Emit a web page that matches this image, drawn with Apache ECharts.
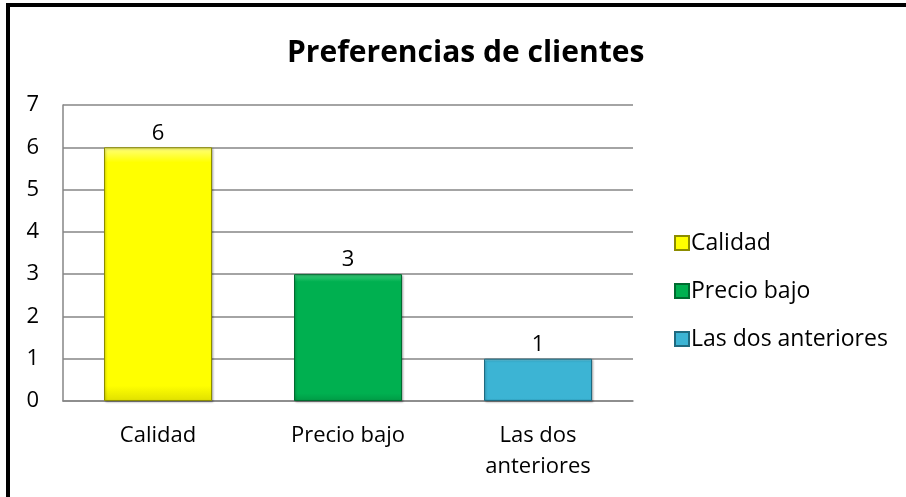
<!DOCTYPE html>
<html>
<head>
<meta charset="utf-8">
<script src="https://cdn.jsdelivr.net/npm/echarts@6/dist/echarts.min.js"></script>
<style>
  html, body { margin: 0; padding: 0; background: #fff; }
  #chart { width: 906px; height: 497px; }
</style>
</head>
<body>
<div id="chart"></div>
<script>
// datos del gráfico
const categories = ['Calidad', 'Precio bajo', 'Las dos\nanteriores']
const legendNames = ['Calidad', 'Precio bajo', 'Las dos anteriores']
const values = [6, 3, 1]
const yTicks = [0, 7, 1] // min, max, interval

const barColors = [
  { top: '#ffff80', mid: '#ffff00', bottom: '#e0e000', border: '#8c8c00' },
  { top: '#3fd07f', mid: '#00b050', bottom: '#009a45', border: '#006b30' },
  { top: '#8adcf0', mid: '#3cb4d4', bottom: '#2e9dbb', border: '#1f6a80' }
]

const myChart = echarts.init(document.getElementById('chart'))

function grad (c) {
  return new echarts.graphic.LinearGradient(0, 0, 0, 1, [
    { offset: 0, color: c.top },
    { offset: 0.06, color: c.mid },
    { offset: 0.94, color: c.mid },
    { offset: 1, color: c.bottom }
  ])
}

const series = legendNames.map((name, i) => {
  const data = categories.map((c, j) => (j === i ? values[j] : '-'))
  return {
    name: name,
    type: 'bar',
    stack: 'total',
    barWidth: 108,
    data: data,
    itemStyle: {
      color: grad(barColors[i]),
      borderColor: barColors[i].border,
      borderWidth: 1,
      shadowColor: 'rgba(0,0,0,0.25)',
      shadowBlur: 2,
      shadowOffsetX: 1,
      shadowOffsetY: 1
    },
    label: {
      show: true,
      position: 'top',
      distance: 3,
      color: '#000',
      fontSize: 22,
      fontFamily: 'Open Sans'
    }
  }
})

const option = {
  animation: false,
  backgroundColor: '#fff',
  title: {
    text: 'Preferencias de clientes',
    left: 282,
    top: 33,
    textStyle: {
      color: '#000',
      fontSize: 30,
      fontWeight: 'bold',
      fontFamily: 'Open Sans'
    }
  },
  legend: {
    orient: 'vertical',
    left: 669,
    top: 226,
    itemWidth: 14,
    itemHeight: 14,
    itemGap: 24,
    icon: 'rect',
    data: legendNames,
    textStyle: {
      color: '#000',
      fontSize: 23,
      lineHeight: 24,
      fontFamily: 'Open Sans',
      padding: [0, 0, 0, -3]
    }
  },
  grid: {
    left: 63,
    top: 105,
    width: 570,
    height: 296
  },
  xAxis: {
    type: 'category',
    data: categories,
    axisTick: { show: false },
    axisLine: { show: true, lineStyle: { color: '#868686', width: 1.5 } },
    axisLabel: {
      color: '#000',
      fontSize: 22,
      fontFamily: 'Open Sans',
      margin: 19,
      lineHeight: 31,
      interval: 0
    }
  },
  yAxis: {
    type: 'value',
    min: yTicks[0],
    max: yTicks[1],
    interval: yTicks[2],
    axisLine: { show: true, lineStyle: { color: '#868686', width: 1.5 } },
    axisTick: { show: false },
    axisLabel: {
      color: '#000',
      fontSize: 22,
      fontFamily: 'Open Sans',
      margin: 24
    },
    splitLine: { show: true, lineStyle: { color: '#868686', width: 1.5 } }
  },
  graphic: [
    {
      type: 'polyline',
      shape: { points: [[8, 497], [8, 5], [906, 5]] },
      style: { stroke: '#000', lineWidth: 4, fill: null }
    }
  ],
  series: series
}

myChart.setOption(option)
</script>
</body>
</html>
